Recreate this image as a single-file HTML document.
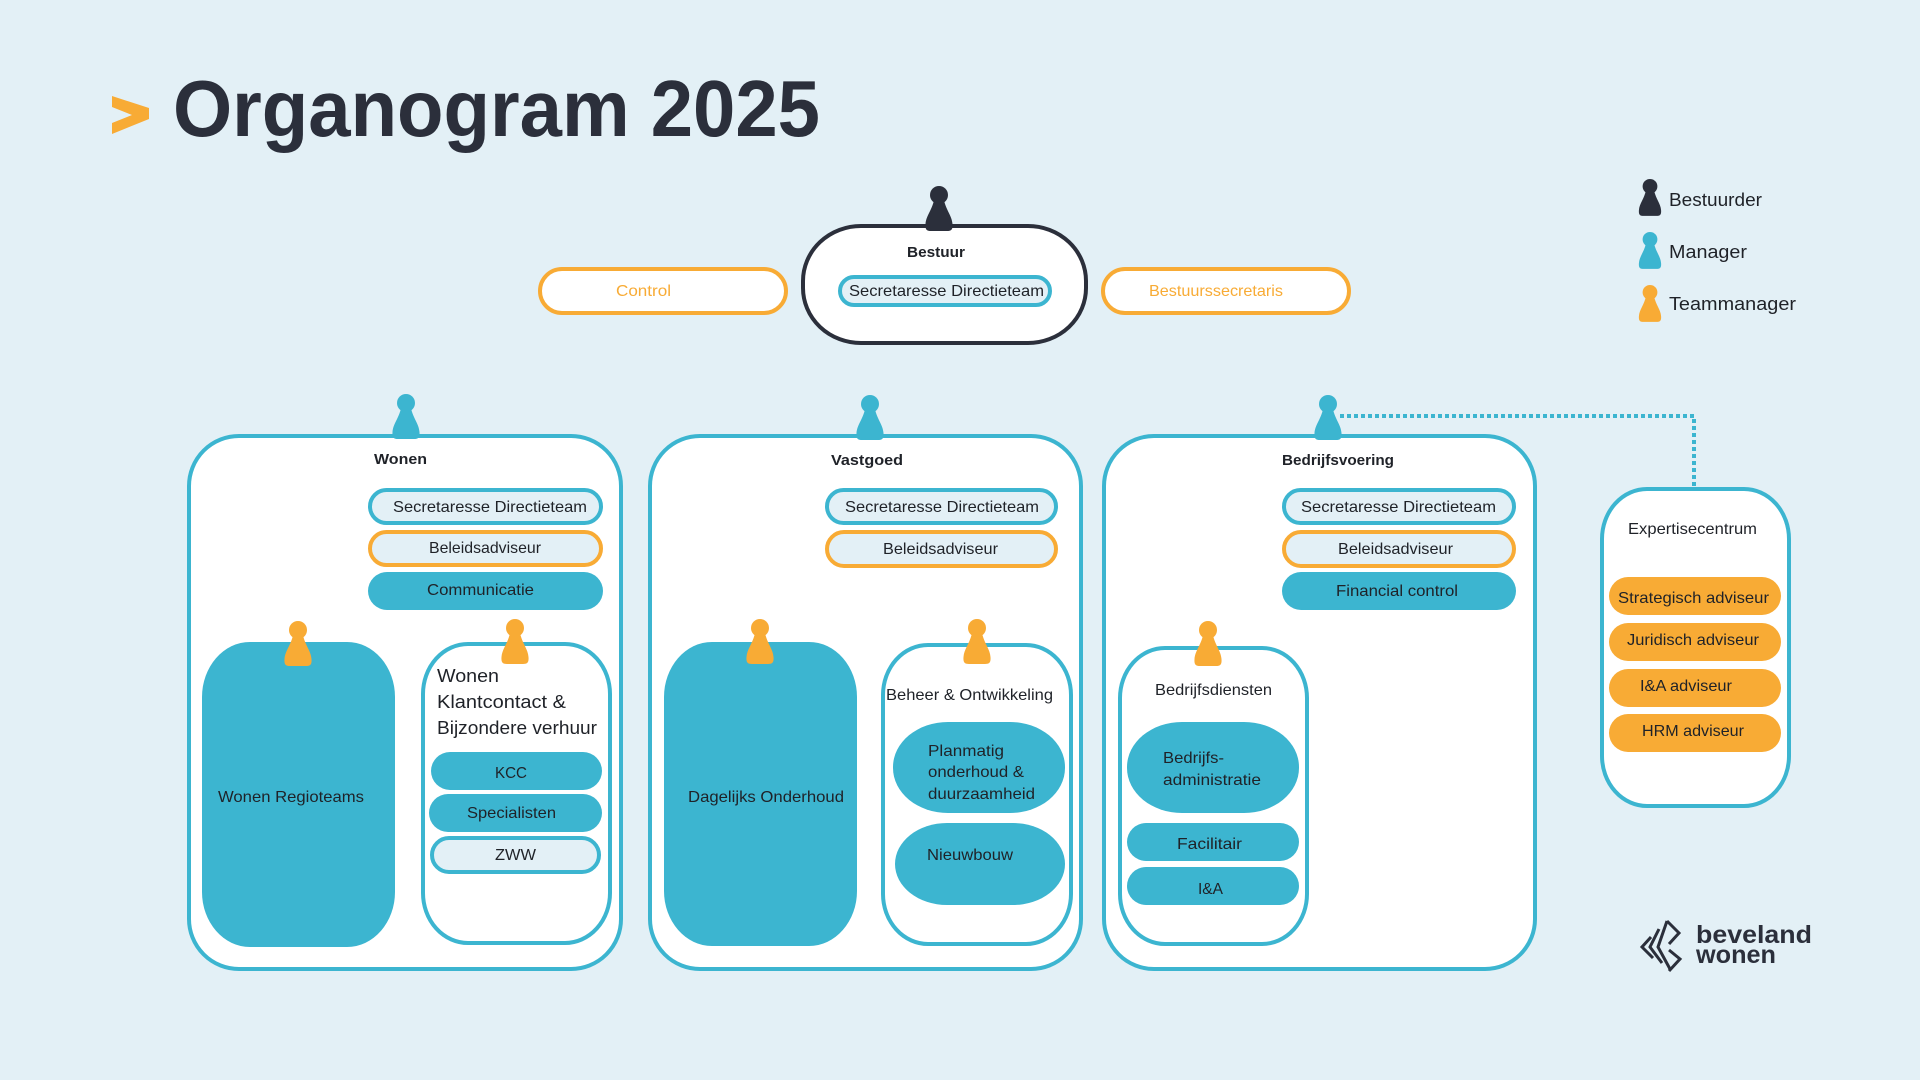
<!DOCTYPE html>
<html>
<head>
<meta charset="utf-8">
<style>
html,body{margin:0;padding:0;background:#e3f0f6;}
body{width:1920px;height:1080px;overflow:hidden;}
svg{display:block;}
text{font-family:"Liberation Sans",sans-serif;fill:#1f2228;}
.b{font-weight:bold;}
</style>
</head>
<body>
<svg width="1920" height="1080" viewBox="0 0 1920 1080" xmlns="http://www.w3.org/2000/svg">
<defs>
  <g id="pawn">
    <circle cx="0" cy="9" r="9"/>
    <path d="M -5,14 C -7,24 -13,30 -13.5,38 C -14,44 -12,45 -8,45 L 8,45 C 12,45 14,44 13.5,38 C 13,30 7,24 5,14 Z"/>
  </g>
</defs>
<rect x="0" y="0" width="1920" height="1080" fill="#e3f0f6"/>

<!-- Title -->
<polygon points="112,96 149,108 149,119 112,134 112,123 132,115 112,107" fill="#f8ab35"/>
<text x="173" y="136" font-size="80" class="b" fill="#2b2f3b" style="fill:#2b2f3b" textLength="647" lengthAdjust="spacingAndGlyphs">Organogram 2025</text>

<!-- Legend -->
<use href="#pawn" transform="translate(1650,179) scale(0.82)" fill="#2b2f3b"/>
<text x="1669" y="206" font-size="18" textLength="93" lengthAdjust="spacingAndGlyphs">Bestuurder</text>
<use href="#pawn" transform="translate(1650,232) scale(0.82)" fill="#3cb5d0"/>
<text x="1669" y="258" font-size="18" textLength="78" lengthAdjust="spacingAndGlyphs">Manager</text>
<use href="#pawn" transform="translate(1650,285) scale(0.82)" fill="#f8ab35"/>
<text x="1669" y="310" font-size="18" textLength="127" lengthAdjust="spacingAndGlyphs">Teammanager</text>

<!-- Bestuur row -->
<rect x="540" y="269" width="246" height="44" rx="22" fill="#ffffff" stroke="#f8ab35" stroke-width="4"/>
<text x="616" y="296" font-size="16" style="fill:#f8ab35" textLength="55" lengthAdjust="spacingAndGlyphs">Control</text>
<rect x="1103" y="269" width="246" height="44" rx="22" fill="#ffffff" stroke="#f8ab35" stroke-width="4"/>
<text x="1149" y="296" font-size="16" style="fill:#f8ab35" textLength="134" lengthAdjust="spacingAndGlyphs">Bestuurssecretaris</text>

<rect x="803" y="226" width="283" height="117" rx="58" ry="55" fill="#ffffff" stroke="#2b2f3b" stroke-width="4"/>
<use href="#pawn" x="939" y="186" fill="#2b2f3b"/>
<text x="907" y="257" font-size="15" class="b" textLength="58" lengthAdjust="spacingAndGlyphs">Bestuur</text>
<rect x="840" y="277" width="210" height="28" rx="14" fill="#e3f0f6" stroke="#3cb5d0" stroke-width="4"/>
<text x="849" y="296" font-size="16" textLength="195" lengthAdjust="spacingAndGlyphs">Secretaresse Directieteam</text>

<!-- Dotted connector -->
<path d="M1340,416 H1694 V486" fill="none" stroke="#3cb5d0" stroke-width="4" stroke-dasharray="4 3"/>

<!-- ===== Wonen ===== -->
<rect x="189" y="436" width="432" height="533" rx="50" fill="#ffffff" stroke="#3cb5d0" stroke-width="4"/>
<use href="#pawn" x="406" y="394" fill="#3cb5d0"/>
<text x="374" y="464" font-size="15" class="b" textLength="53" lengthAdjust="spacingAndGlyphs">Wonen</text>
<rect x="370" y="490" width="231" height="33" rx="16.5" fill="#e3f0f6" stroke="#3cb5d0" stroke-width="4"/>
<text x="393" y="512" font-size="16" textLength="194" lengthAdjust="spacingAndGlyphs">Secretaresse Directieteam</text>
<rect x="370" y="532" width="231" height="33" rx="16.5" fill="#e3f0f6" stroke="#f8ab35" stroke-width="4"/>
<text x="429" y="553" font-size="16" textLength="112" lengthAdjust="spacingAndGlyphs">Beleidsadviseur</text>
<rect x="368" y="572" width="235" height="38" rx="19" fill="#3cb5d0"/>
<text x="427" y="595" font-size="16" textLength="107" lengthAdjust="spacingAndGlyphs">Communicatie</text>

<rect x="202" y="642" width="193" height="305" rx="48" ry="55" fill="#3cb5d0"/>
<use href="#pawn" x="298" y="621" fill="#f8ab35"/>
<text x="218" y="802" font-size="16" textLength="146" lengthAdjust="spacingAndGlyphs">Wonen Regioteams</text>

<rect x="423" y="644" width="187" height="299" rx="45" ry="50" fill="#ffffff" stroke="#3cb5d0" stroke-width="4"/>
<use href="#pawn" x="515" y="619" fill="#f8ab35"/>
<text x="437" y="682" font-size="18" textLength="62" lengthAdjust="spacingAndGlyphs">Wonen</text>
<text x="437" y="708" font-size="18" textLength="129" lengthAdjust="spacingAndGlyphs">Klantcontact &amp;</text>
<text x="437" y="734" font-size="18" textLength="160" lengthAdjust="spacingAndGlyphs">Bijzondere verhuur</text>
<rect x="431" y="752" width="171" height="38" rx="19" fill="#3cb5d0"/>
<text x="495" y="778" font-size="16" textLength="32" lengthAdjust="spacingAndGlyphs">KCC</text>
<rect x="429" y="794" width="173" height="38" rx="19" fill="#3cb5d0"/>
<text x="467" y="818" font-size="16" textLength="89" lengthAdjust="spacingAndGlyphs">Specialisten</text>
<rect x="432" y="838" width="167" height="34" rx="17" fill="#e3f0f6" stroke="#3cb5d0" stroke-width="4"/>
<text x="495" y="860" font-size="16" textLength="41" lengthAdjust="spacingAndGlyphs">ZWW</text>

<!-- ===== Vastgoed ===== -->
<rect x="650" y="436" width="431" height="533" rx="50" fill="#ffffff" stroke="#3cb5d0" stroke-width="4"/>
<use href="#pawn" x="870" y="395" fill="#3cb5d0"/>
<text x="831" y="465" font-size="15" class="b" textLength="72" lengthAdjust="spacingAndGlyphs">Vastgoed</text>
<rect x="827" y="490" width="229" height="33" rx="16.5" fill="#e3f0f6" stroke="#3cb5d0" stroke-width="4"/>
<text x="845" y="512" font-size="16" textLength="194" lengthAdjust="spacingAndGlyphs">Secretaresse Directieteam</text>
<rect x="827" y="532" width="229" height="34" rx="17" fill="#e3f0f6" stroke="#f8ab35" stroke-width="4"/>
<text x="883" y="554" font-size="16" textLength="115" lengthAdjust="spacingAndGlyphs">Beleidsadviseur</text>

<rect x="664" y="642" width="193" height="304" rx="48" ry="55" fill="#3cb5d0"/>
<use href="#pawn" x="760" y="619" fill="#f8ab35"/>
<text x="688" y="802" font-size="16" textLength="156" lengthAdjust="spacingAndGlyphs">Dagelijks Onderhoud</text>

<rect x="883" y="645" width="188" height="299" rx="45" ry="50" fill="#ffffff" stroke="#3cb5d0" stroke-width="4"/>
<use href="#pawn" x="977" y="619" fill="#f8ab35"/>
<text x="886" y="700" font-size="16" textLength="167" lengthAdjust="spacingAndGlyphs">Beheer &amp; Ontwikkeling</text>
<rect x="893" y="722" width="172" height="91" rx="55" ry="45" fill="#3cb5d0"/>
<text x="928" y="756" font-size="16" textLength="76" lengthAdjust="spacingAndGlyphs">Planmatig</text>
<text x="928" y="777" font-size="16" textLength="96" lengthAdjust="spacingAndGlyphs">onderhoud &amp;</text>
<text x="928" y="799" font-size="16" textLength="107" lengthAdjust="spacingAndGlyphs">duurzaamheid</text>
<rect x="895" y="823" width="170" height="82" rx="52" ry="41" fill="#3cb5d0"/>
<text x="927" y="860" font-size="16" textLength="86" lengthAdjust="spacingAndGlyphs">Nieuwbouw</text>

<!-- ===== Bedrijfsvoering ===== -->
<rect x="1104" y="436" width="431" height="533" rx="50" fill="#ffffff" stroke="#3cb5d0" stroke-width="4"/>
<use href="#pawn" x="1328" y="395" fill="#3cb5d0"/>
<text x="1282" y="465" font-size="15" class="b" textLength="112" lengthAdjust="spacingAndGlyphs">Bedrijfsvoering</text>
<rect x="1284" y="490" width="230" height="33" rx="16.5" fill="#e3f0f6" stroke="#3cb5d0" stroke-width="4"/>
<text x="1301" y="512" font-size="16" textLength="195" lengthAdjust="spacingAndGlyphs">Secretaresse Directieteam</text>
<rect x="1284" y="532" width="230" height="34" rx="17" fill="#e3f0f6" stroke="#f8ab35" stroke-width="4"/>
<text x="1338" y="554" font-size="16" textLength="115" lengthAdjust="spacingAndGlyphs">Beleidsadviseur</text>
<rect x="1282" y="572" width="234" height="38" rx="19" fill="#3cb5d0"/>
<text x="1336" y="596" font-size="16" textLength="122" lengthAdjust="spacingAndGlyphs">Financial control</text>

<rect x="1120" y="648" width="187" height="296" rx="45" ry="50" fill="#ffffff" stroke="#3cb5d0" stroke-width="4"/>
<use href="#pawn" x="1208" y="621" fill="#f8ab35"/>
<text x="1155" y="695" font-size="16" textLength="117" lengthAdjust="spacingAndGlyphs">Bedrijfsdiensten</text>
<rect x="1127" y="722" width="172" height="91" rx="55" ry="45" fill="#3cb5d0"/>
<text x="1163" y="763" font-size="16" textLength="61" lengthAdjust="spacingAndGlyphs">Bedrijfs-</text>
<text x="1163" y="785" font-size="16" textLength="98" lengthAdjust="spacingAndGlyphs">administratie</text>
<rect x="1127" y="823" width="172" height="38" rx="19" fill="#3cb5d0"/>
<text x="1177" y="849" font-size="16" textLength="65" lengthAdjust="spacingAndGlyphs">Facilitair</text>
<rect x="1127" y="867" width="172" height="38" rx="19" fill="#3cb5d0"/>
<text x="1198" y="894" font-size="16" textLength="25" lengthAdjust="spacingAndGlyphs">I&amp;A</text>

<!-- ===== Expertisecentrum ===== -->
<rect x="1602" y="489" width="187" height="317" rx="45" ry="50" fill="#ffffff" stroke="#3cb5d0" stroke-width="4"/>
<text x="1628" y="534" font-size="16" textLength="129" lengthAdjust="spacingAndGlyphs">Expertisecentrum</text>
<rect x="1609" y="577" width="172" height="38" rx="19" fill="#f8ab35"/>
<text x="1618" y="603" font-size="16" textLength="151" lengthAdjust="spacingAndGlyphs">Strategisch adviseur</text>
<rect x="1609" y="623" width="172" height="38" rx="19" fill="#f8ab35"/>
<text x="1627" y="645" font-size="16" textLength="132" lengthAdjust="spacingAndGlyphs">Juridisch adviseur</text>
<rect x="1609" y="669" width="172" height="38" rx="19" fill="#f8ab35"/>
<text x="1640" y="691" font-size="16" textLength="92" lengthAdjust="spacingAndGlyphs">I&amp;A adviseur</text>
<rect x="1609" y="714" width="172" height="38" rx="19" fill="#f8ab35"/>
<text x="1642" y="736" font-size="16" textLength="102" lengthAdjust="spacingAndGlyphs">HRM adviseur</text>

<!-- Logo -->
<g fill="none" stroke="#2b2f3b" stroke-width="3" stroke-linejoin="miter">
  <polyline points="1651,937 1642,947 1653,958"/>
  <polyline points="1659,929 1650,947 1662,963"/>
  <polyline points="1667,921 1658,947 1670,969"/>
  <polyline points="1667,921 1679,933 1669,944"/>
  <polyline points="1669,950 1680,959 1669,971"/>
</g>
<text x="1696" y="943" font-size="25" class="b" style="fill:#2b2f3b" textLength="116" lengthAdjust="spacingAndGlyphs">beveland</text>
<text x="1696" y="963" font-size="25" class="b" style="fill:#2b2f3b" textLength="80" lengthAdjust="spacingAndGlyphs">wonen</text>
</svg>
</body>
</html>
